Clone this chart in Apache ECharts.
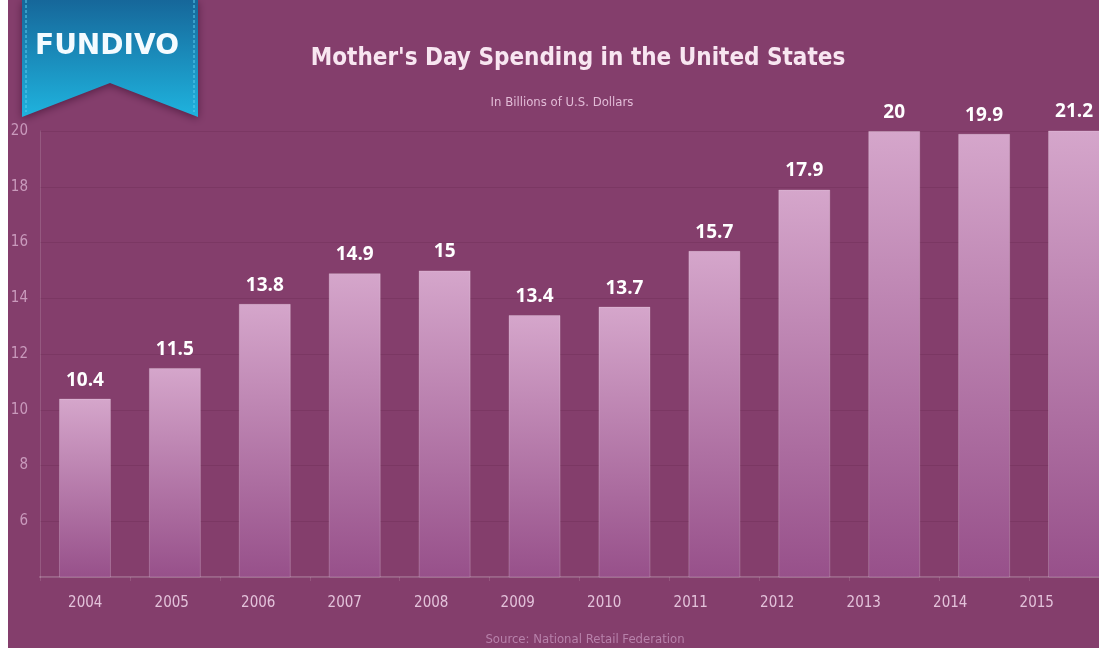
<!DOCTYPE html>
<html>
<head>
<meta charset="utf-8">
<title>Mother's Day Spending in the United States</title>
<script src="https://cdn.jsdelivr.net/npm/echarts@6/dist/echarts.min.js"></script>
<style>
  html, body { margin: 0; padding: 0; background: #ffffff; }
  #main { position: absolute; left: 8px; top: 0; width: 1091px; height: 648px; }
</style>
</head>
<body>
<div id="main"></div>
<script>
// data
var years = ['2004', '2005', '2006', '2007', '2008', '2009', '2010', '2011', '2012', '2013', '2014', '2015']
var spending = [10.4, 11.5, 13.8, 14.9, 15, 13.4, 13.7, 15.7, 17.9, 20, 19.9, 21.2]
var yMin = 4
var yMax = 20
var yStep = 2

var narrow = "'Liberation Sans Narrow', 'DejaVu Sans Condensed', sans-serif"

var myChart = echarts.init(document.getElementById('main'))
var option = {
  backgroundColor: '#843e6c',
  animation: false,
  title: [
    {
      text: "Mother's Day Spending in the United States",
      left: 565,
      top: 42,
      textAlign: 'center',
      textStyle: {
        color: '#f8e6f1',
        fontFamily: "'DejaVu Sans Condensed', sans-serif",
        fontWeight: 'bold',
        fontSize: 24,
      },
    },
    {
      text: 'In Billions of U.S. Dollars',
      left: 549,
      top: 91,
      textAlign: 'center',
      textStyle: {
        color: '#e2bcd7',
        fontFamily: narrow,
        fontWeight: 'normal',
        fontSize: 13,
      },
    },
    {
      text: 'Source: National Retail Federation',
      left: 572,
      top: 628,
      textAlign: 'center',
      textStyle: {
        color: '#b781aa',
        fontFamily: narrow,
        fontWeight: 'normal',
        fontSize: 13,
      },
    },
  ],
  graphic: [
    {
      type: 'polygon',
      shape: {
        points: [[14, 0], [190, 0], [190, 117], [102, 83], [14, 117]],
      },
      style: {
        fill: {
          type: 'linear',
          x: 0, y: 0, x2: 0, y2: 1,
          colorStops: [
            { offset: 0, color: '#16679a' },
            { offset: 1, color: '#1fb3de' },
          ],
        },
        shadowBlur: 8,
        shadowColor: 'rgba(40, 0, 30, 0.5)',
        shadowOffsetY: 2,
      },
      z: 10,
    },
    {
      type: 'line',
      shape: { x1: 18, y1: 0, x2: 18, y2: 112 },
      style: { stroke: '#5ccdf0', lineWidth: 1, lineDash: [3, 2] },
      z: 11,
    },
    {
      type: 'line',
      shape: { x1: 186, y1: 0, x2: 186, y2: 112 },
      style: { stroke: '#5ccdf0', lineWidth: 1, lineDash: [3, 2] },
      z: 11,
    },
    {
      type: 'text',
      left: 27,
      top: 33,
      style: {
        text: 'FUNDIVO',
        fill: '#f4fbff',
        font: "bold 28px 'DejaVu Sans', sans-serif",
      },
      z: 12,
    },
  ],
  grid: [
    { left: 32, width: 1079, top: 131, bottom: 71, outerBoundsMode: 'none' },
    { left: 34, width: 1038, top: 131, bottom: 71, outerBoundsMode: 'none' },
  ],
  xAxis: [
    {
      type: 'category',
      gridIndex: 0,
      data: years,
      axisLine: { show: true, lineStyle: { color: 'rgba(255, 255, 255, 0.2)', width: 2 } },
      axisTick: { show: true, length: 4, lineStyle: { color: 'rgba(255, 255, 255, 0.12)' } },
      axisLabel: { show: false },
      splitLine: { show: false },
    },
    {
      type: 'category',
      gridIndex: 1,
      data: years,
      axisLine: { show: false },
      axisTick: { show: false },
      axisLabel: {
        show: true,
        color: '#e3c2da',
        fontFamily: narrow,
        fontSize: 15,
        margin: 19,
      },
    },
  ],
  yAxis: [
    {
      type: 'value',
      gridIndex: 0,
      min: yMin,
      max: yMax,
      interval: yStep,
      axisLine: { show: true, lineStyle: { color: 'rgba(255, 255, 255, 0.14)' } },
      axisTick: { show: false },
      axisLabel: {
        showMinLabel: false,
        color: '#c99abc',
        fontFamily: narrow,
        fontSize: 15,
        margin: 12,
      },
      splitLine: { show: true, lineStyle: { color: 'rgba(60, 10, 45, 0.12)' } },
    },
    {
      type: 'value',
      gridIndex: 1,
      min: yMin,
      max: yMax,
      show: false,
    },
  ],
  series: [
    {
      type: 'bar',
      xAxisIndex: 0,
      yAxisIndex: 0,
      data: spending,
      barWidth: 52,
      clip: true,
      itemStyle: {
        color: {
          type: 'linear',
          x: 0, y: 0, x2: 0, y2: 1,
          colorStops: [
            { offset: 0, color: '#d5a6cb' },
            { offset: 1, color: '#97508a' },
          ],
        },
        borderColor: 'rgba(255, 255, 255, 0.2)',
        borderWidth: 1,
      },
      label: {
        show: true,
        position: 'top',
        distance: 9,
        color: '#ffffff',
        fontFamily: "'Open Sans', sans-serif",
        fontWeight: 'bold',
        fontSize: 19,
      },
    },
  ],
}
option && myChart.setOption(option)
</script>
</body>
</html>
